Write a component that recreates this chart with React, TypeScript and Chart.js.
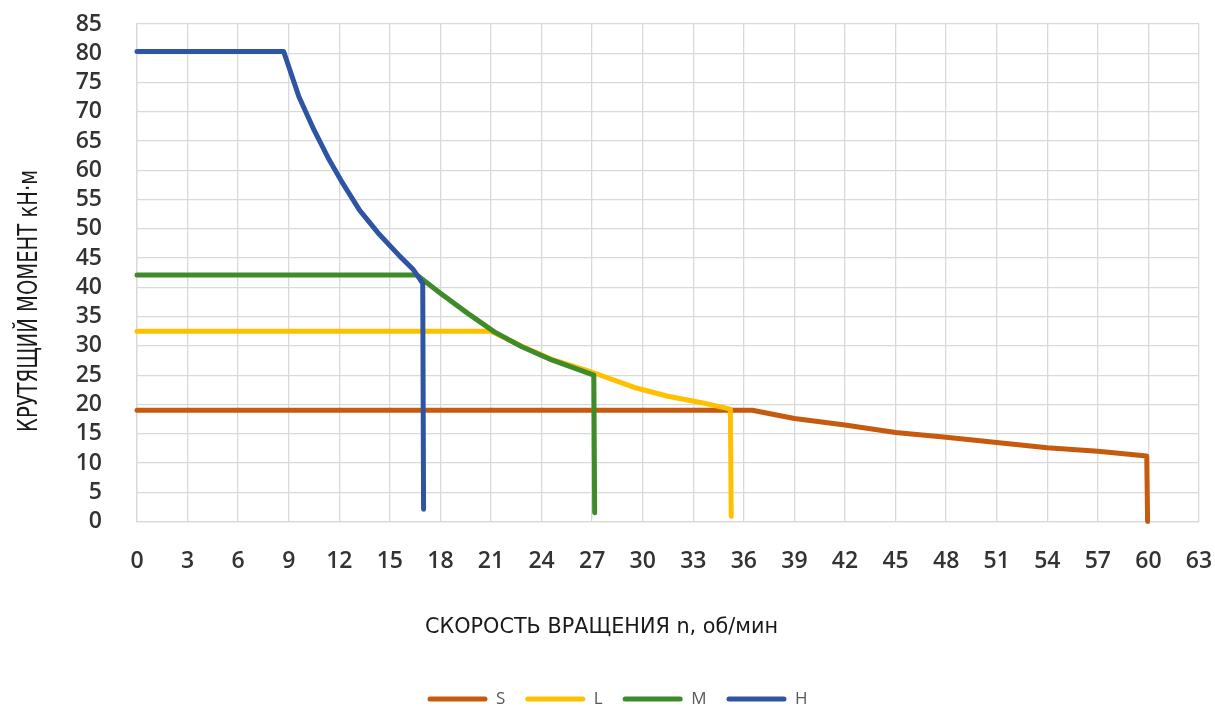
import React, { useEffect, useRef } from "react";
import { Chart, registerables } from "chart.js";

Chart.register(...registerables);

// ---- data ----
const seriesNames = ["S", "L", "M", "H"];
const seriesColors = ["#C65A0E", "#FFC000", "#3F8B2A", "#2E55A3"];

const speedS = [0, 36.5, 39, 42, 45, 48, 51, 54, 57, 59.9, 59.95];
const torqueS = [19, 19, 17.6, 16.5, 15.2, 14.4, 13.5, 12.6, 12.0, 11.2, 0];

const speedL = [0, 21, 22.8, 24.6, 27, 29.5, 31.5, 33.5, 35.2, 35.25];
const torqueL = [32.5, 32.5, 30, 27.7, 25.5, 22.9, 21.4, 20.3, 19.2, 0.9];

const speedM = [0, 16.6, 18, 19.6, 21.2, 22.8, 24.6, 27.1, 27.15];
const torqueM = [42.1, 42.1, 39, 35.6, 32.4, 29.9, 27.6, 25.0, 1.5];

const speedH = [0, 8.7, 9.6, 10.5, 11.4, 12.2, 13.2, 14.3, 15.6, 16.4, 16.95, 17.0];
const torqueH = [80.3, 80.3, 72.6, 66.9, 61.8, 57.8, 53.2, 49.3, 45.3, 43.0, 40.7, 2.1];

const xTitle = "СКОРОСТЬ ВРАЩЕНИЯ n, об/мин";
const yTitle = "КРУТЯЩИЙ МОМЕНТ кН·м";

const X_MIN = 0;
const X_MAX = 63;
const X_STEP = 3;
const Y_MIN = 0;
const Y_MAX = 85;
const Y_STEP = 5;

const allSpeeds = [speedS, speedL, speedM, speedH];
const allTorques = [torqueS, torqueL, torqueM, torqueH];

const TITLE_FONT = "'Liberation Sans Narrow', 'DejaVu Sans Condensed', 'Roboto', sans-serif";
const TICK_FONT = "'Open Sans', 'Noto Sans', sans-serif";

function drawFitted(
  ctx: CanvasRenderingContext2D,
  text: string,
  x: number,
  y: number,
  width: number,
  size: number,
  rot: number
) {
  ctx.save();
  ctx.font = `${size}px ${TITLE_FONT}`;
  const w = ctx.measureText(text).width;
  ctx.translate(x, y);
  ctx.rotate(rot);
  ctx.scale(width / w, 1);
  ctx.textAlign = "center";
  ctx.textBaseline = "alphabetic";
  ctx.fillStyle = "#1a1a1a";
  ctx.fillText(text, 0, 0);
  ctx.restore();
}

const titlesPlugin = {
  id: "axisTitlesCustom",
  afterDraw(chart: any) {
    const ctx = chart.ctx as CanvasRenderingContext2D;
    drawFitted(ctx, xTitle, 601.5, 633, 353, 22, 0);
    drawFitted(ctx, yTitle, 37, 301, 262, 27, -Math.PI / 2);
  },
};

export default function App() {
  const canvasRef = useRef<HTMLCanvasElement | null>(null);

  useEffect(() => {
    if (!canvasRef.current) return;
    const datasets = seriesNames.map((name, i) => ({
      label: name,
      data: allSpeeds[i].map((x, j) => ({ x, y: allTorques[i][j] })),
      borderColor: seriesColors[i],
      backgroundColor: seriesColors[i],
      borderWidth: 5,
      pointRadius: 0,
      pointHoverRadius: 0,
      showLine: true,
      tension: 0,
      borderJoinStyle: "round" as const,
      borderCapStyle: "round" as const,
      order: seriesNames.length - 1 - i,
      clip: 8,
    }));

    const chart = new Chart(canvasRef.current, {
      type: "scatter",
      data: { datasets },
      plugins: [titlesPlugin],
      options: {
        animation: false,
        responsive: false,
        devicePixelRatio: 1,
        layout: { padding: { top: 24, right: 16, left: 36, bottom: -10.5 } },
        plugins: {
          tooltip: { enabled: false },
          legend: {
            position: "bottom",
            labels: {
              boxWidth: 60,
              boxHeight: 5,
              useBorderRadius: true,
              borderRadius: 2.5,
              padding: 20,
              color: "#595959",
              font: { family: TICK_FONT, size: 17 },
              generateLabels: (c: any) =>
                Chart.defaults.plugins.legend.labels
                  .generateLabels(c)
                  .map((it: any) => ({ ...it, lineWidth: 0 }))
                  .sort((a: any, b: any) => a.datasetIndex - b.datasetIndex),
            },
          },
        },
        scales: {
          x: {
            type: "linear",
            min: X_MIN,
            max: X_MAX,
            afterFit: (scale: any) => {
              scale.height = 149;
              scale.paddingLeft = 0;
              scale.paddingRight = 0;
            },
            ticks: {
              stepSize: X_STEP,
              autoSkip: false,
              maxRotation: 0,
              padding: 26,
              color: "#333333",
              font: { family: TICK_FONT, size: 23, weight: "600" as any },
            },
            grid: { color: "#d9d9d9", lineWidth: 1.3, drawTicks: false },
            border: { display: true, color: "#d9d9d9", width: 1.3 },
          },
          y: {
            type: "linear",
            min: Y_MIN,
            max: Y_MAX,
            afterFit: (scale: any) => {
              scale.width = 101;
              scale.paddingTop = 0;
              scale.paddingBottom = 0;
            },
            ticks: {
              stepSize: Y_STEP,
              autoSkip: false,
              padding: 35,
              color: "#333333",
              font: { family: TICK_FONT, size: 23, weight: "600" as any },
            },
            grid: { color: "#d9d9d9", lineWidth: 1.3, drawTicks: false },
            border: { display: true, color: "#d9d9d9", width: 1.3 },
          },
        },
      },
    });
    return () => chart.destroy();
  }, []);

  return (
    <div style={{ position: "fixed", left: 0, top: 0, width: 1215, height: 707, background: "#ffffff" }}>
      <canvas ref={canvasRef} width={1215} height={707} style={{ display: "block" }} />
    </div>
  );
}
